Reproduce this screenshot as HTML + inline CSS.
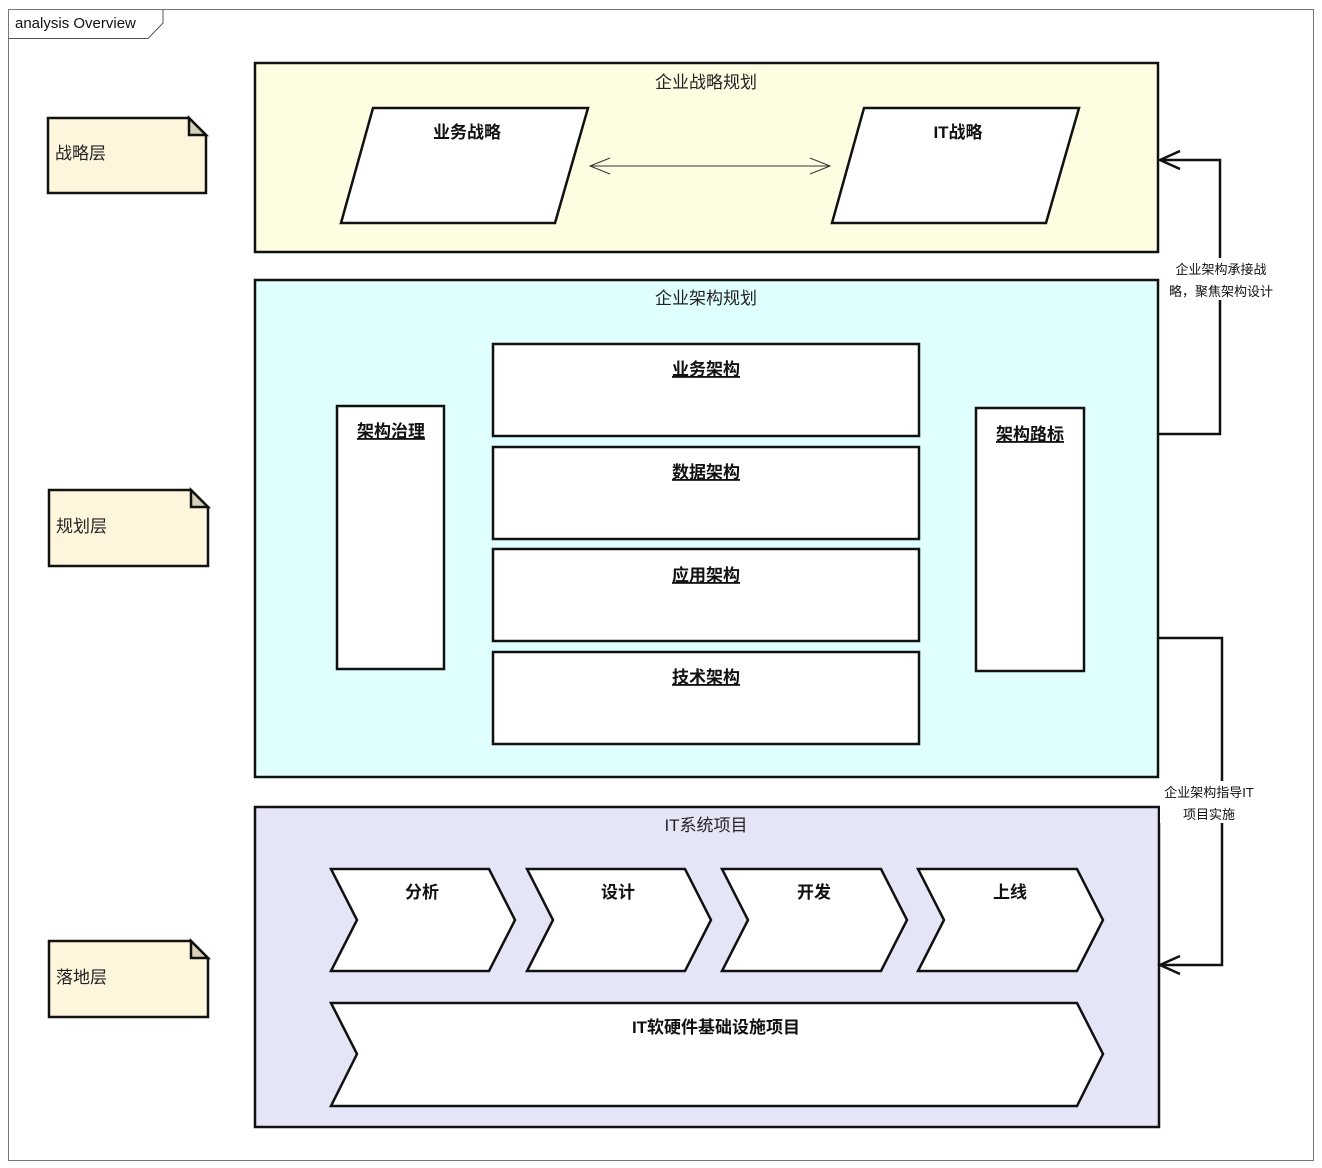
<!DOCTYPE html>
<html><head><meta charset="utf-8"><style>
html,body{margin:0;padding:0;background:#fff;}
svg{display:block;font-family:"Liberation Sans","Noto Sans CJK SC",sans-serif;}
.t{font-size:17px;fill:#222;}
.b{font-size:17px;font-weight:bold;fill:#111;}
.s{font-size:13px;fill:#111;}
</style></head><body>
<svg width="1322" height="1168" viewBox="0 0 1322 1168" xmlns="http://www.w3.org/2000/svg">
<rect x="8.5" y="9.5" width="1305" height="1151" fill="#fff" stroke="#777" stroke-width="1"/>
<path d="M8.5 38.5 H148 L163 23 V9.5" fill="none" stroke="#555" stroke-width="1"/>
<text x="15" y="28" style="font-size:15px" fill="#111">analysis Overview</text>

<!-- notes -->
<g stroke="#111" stroke-width="2.5">
<path d="M48 118 H189 L206 135 V193 H48 Z" fill="#fdf5dc"/>
<path d="M189 118 V135 H206 Z" fill="#d6d0b8"/>
<path d="M49 490 H191 L208 507 V566 H49 Z" fill="#fdf5dc"/>
<path d="M191 490 V507 H208 Z" fill="#d6d0b8"/>
<path d="M49 941 H191 L208 958 V1017 H49 Z" fill="#fdf5dc"/>
<path d="M191 941 V958 H208 Z" fill="#d6d0b8"/>
</g>
<text x="55" y="159" class="t">战略层</text>
<text x="56" y="532" class="t">规划层</text>
<text x="56" y="983" class="t">落地层</text>

<!-- containers -->
<g stroke="#111" stroke-width="2.5">
<rect x="255" y="63" width="903" height="189" fill="#fffde1"/>
<rect x="255" y="280" width="903" height="497" fill="#e0ffff"/>
<rect x="255" y="807" width="904" height="320" fill="#e5e5f8"/>
</g>
<text x="706" y="88" class="t" text-anchor="middle">企业战略规划</text>
<text x="706" y="304" class="t" text-anchor="middle">企业架构规划</text>
<text x="706" y="831" class="t" text-anchor="middle">IT系统项目</text>

<!-- parallelograms -->
<g stroke="#111" stroke-width="2.5" fill="#fff">
<path d="M373 108 H588 L555 223 H341 Z"/>
<path d="M864 108 H1079 L1046 223 H832 Z"/>
</g>
<text x="467" y="138" class="b" text-anchor="middle">业务战略</text>
<text x="958" y="138" class="b" text-anchor="middle">IT战略</text>
<g stroke="#333" stroke-width="1" fill="none">
<line x1="590" y1="166" x2="830" y2="166"/>
<path d="M610 158 L590 166 L610 174"/>
<path d="M810 158 L830 166 L810 174"/>
</g>

<!-- architecture rects -->
<g stroke="#111" stroke-width="2.5" fill="#fff">
<rect x="493" y="344" width="426" height="92"/>
<rect x="493" y="447" width="426" height="92"/>
<rect x="493" y="549" width="426" height="92"/>
<rect x="493" y="652" width="426" height="92"/>
<rect x="337" y="406" width="107" height="263"/>
<rect x="976" y="408" width="108" height="263"/>
</g>
<g class="b" text-anchor="middle" text-decoration="underline">
<text x="706" y="375" class="b" text-decoration="underline">业务架构</text>
<text x="706" y="478" class="b" text-decoration="underline">数据架构</text>
<text x="706" y="581" class="b" text-decoration="underline">应用架构</text>
<text x="706" y="683" class="b" text-decoration="underline">技术架构</text>
<text x="391" y="437" class="b" text-decoration="underline">架构治理</text>
<text x="1030" y="440" class="b" text-decoration="underline">架构路标</text>
</g>

<!-- chevrons -->
<g stroke="#111" stroke-width="2.5" fill="#fff">
<path d="M331 869 H489 L515 920 L489 971 H331 L357 920 Z"/>
<path d="M527 869 H685 L711 920 L685 971 H527 L553 920 Z"/>
<path d="M722 869 H881 L907 920 L881 971 H722 L748 920 Z"/>
<path d="M918 869 H1077 L1103 920 L1077 971 H918 L944 920 Z"/>
<path d="M331 1003 H1077 L1103 1054 L1077 1106 H331 L357 1054 Z"/>
</g>
<text x="422" y="898" class="b" text-anchor="middle">分析</text>
<text x="618" y="898" class="b" text-anchor="middle">设计</text>
<text x="814" y="898" class="b" text-anchor="middle">开发</text>
<text x="1010" y="898" class="b" text-anchor="middle">上线</text>
<text x="716" y="1033" class="b" text-anchor="middle">IT软硬件基础设施项目</text>

<!-- connectors -->
<g stroke="#111" stroke-width="2.5" fill="none">
<path d="M1158 434 H1220 V160 H1160"/>
<path d="M1180 151 L1160 160 L1180 169"/>
<path d="M1158 638 H1222 V965 H1160"/>
<path d="M1180 956 L1160 965 L1180 974"/>
</g>
<rect x="1166" y="258" width="112" height="42" fill="#fff"/>
<text x="1221" y="274" class="s" text-anchor="middle">企业架构承接战</text>
<text x="1221" y="296" class="s" text-anchor="middle">略，聚焦架构设计</text>
<rect x="1160" y="781" width="98" height="42" fill="#fff"/>
<text x="1209" y="797" class="s" text-anchor="middle">企业架构指导IT</text>
<text x="1209" y="819" class="s" text-anchor="middle">项目实施</text>
</svg>
</body></html>
